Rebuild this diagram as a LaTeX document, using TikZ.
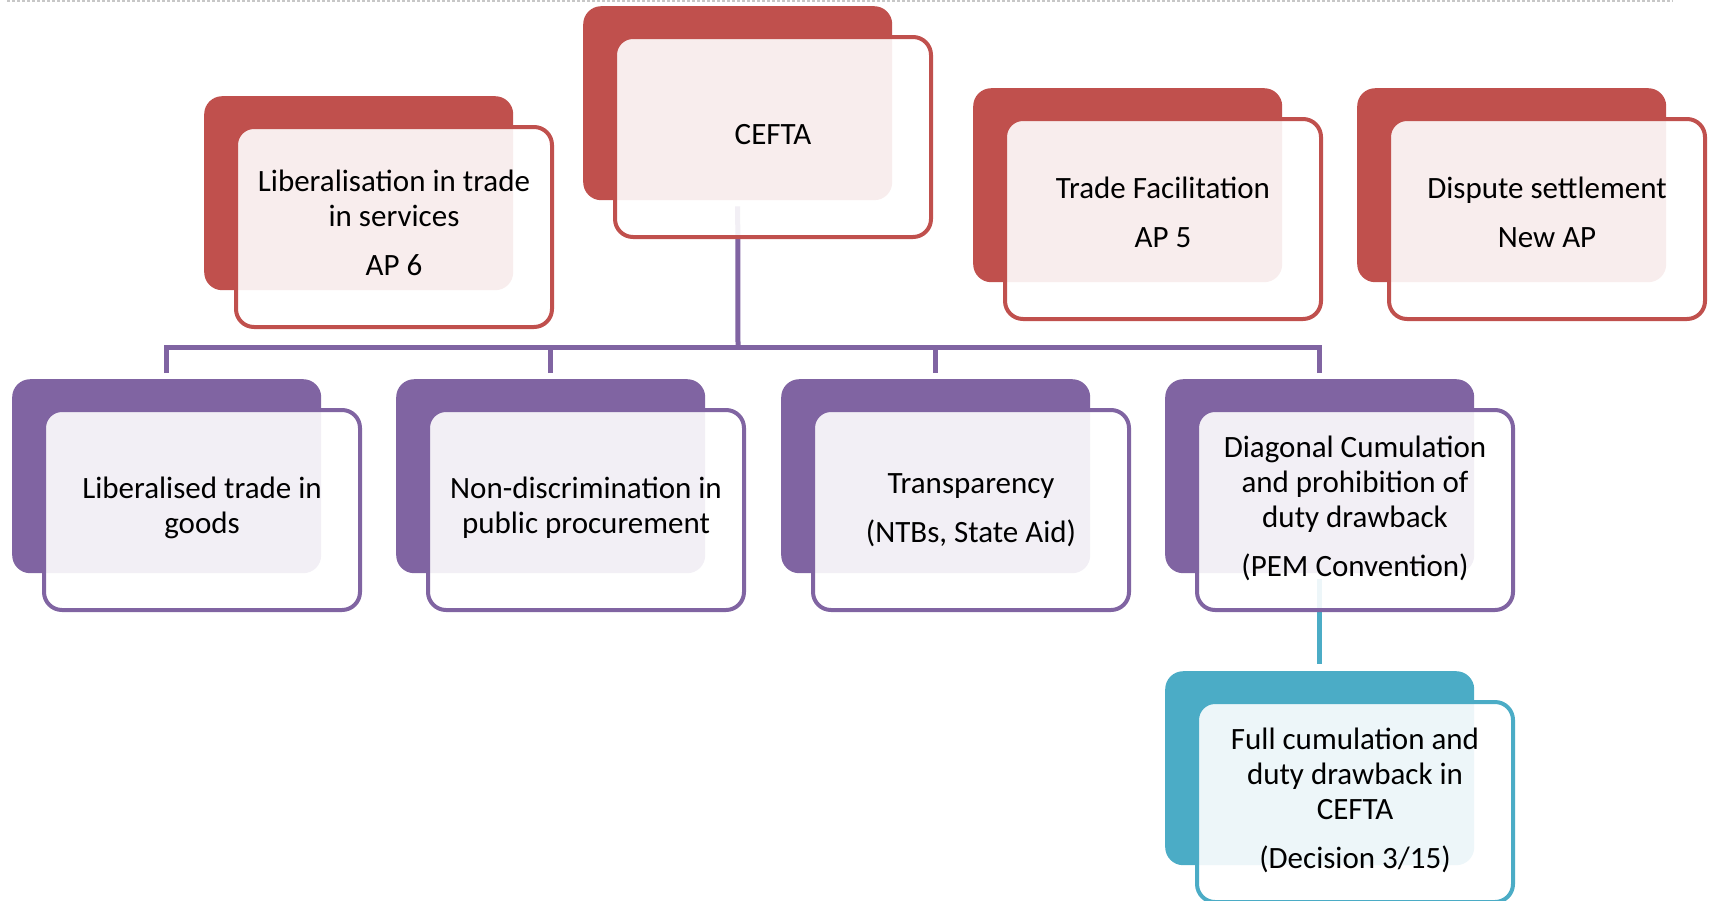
\documentclass[tikz,border=0pt]{standalone}
\usepackage{fontspec}
\setmainfont{Carlito}
\usetikzlibrary{calc}
\definecolor{cred}{HTML}{C0504D}
\definecolor{cpur}{HTML}{8064A2}
\definecolor{cteal}{HTML}{4BACC6}
\begin{document}
\begin{tikzpicture}[x=1pt,y=-1pt,
  backbox/.style={rounded corners=18pt, inner sep=0pt, minimum width=309pt, minimum height=194pt, anchor=north west, fill=#1, draw=none},
  frontbox/.style={rounded corners=18pt, draw=#1, line width=4pt, fill=white, fill opacity=0.9, draw opacity=1, text opacity=1, minimum width=316pt, minimum height=200pt, anchor=north west, inner sep=0pt},
  boxtext/.style={font=\fontsize{31}{35}\selectfont, align=center, text=black, yshift=#1},
  conn/.style={line width=5pt, draw=#1}]
\useasboundingbox (0,0) rectangle (1712,900);
% top dotted rule
\coordinate (dotL) at (7,1);
\coordinate (dotR) at (1673,1);
\draw[black!22, line width=1.5pt, dash pattern=on 3pt off 2pt] (dotL) -- (dotR);
% back boxes
\node[backbox=cred] (ceftaB) at (583,6) {};
\node[backbox=cred] (servB) at (204,96) {};
\node[backbox=cred] (tfB) at (973,88) {};
\node[backbox=cred] (dsB) at (1357,88) {};
\node[backbox=cpur] (g1B) at (12,379) {};
\node[backbox=cpur] (g2B) at (396,379) {};
\node[backbox=cpur] (g3B) at (781,379) {};
\node[backbox=cpur] (g4B) at (1165,379) {};
\node[backbox=cteal] (tB) at (1165,671) {};
% connectors
\coordinate (bus) at (738,347);
\draw[conn=cpur] ([yshift=-6pt]ceftaB.south) -- (bus);
\draw[conn=cpur] ([yshift=6pt]g1B.north) |- (bus);
\draw[conn=cpur] ([yshift=6pt]g4B.north) |- (bus);
\draw[conn=cpur] ([yshift=6pt]g2B.north) -- (g2B.north |- bus);
\draw[conn=cpur] ([yshift=6pt]g3B.north) -- (g3B.north |- bus);
\draw[conn=cteal] ([yshift=-6pt]g4B.south) -- ([yshift=7pt]tB.north);
% front boxes (frames; the text sits on each frame's centre)
\node[frontbox=cred, label={[boxtext=2pt]center:CEFTA}] (cefta) at ($(ceftaB.north west)+(30,29)$) {};
\node[frontbox=cred, label={[boxtext=4pt]center:Liberalisation in trade\\in services\\[14pt]AP 6}] (serv) at ($(servB.north west)+(30,29)$) {};
\node[frontbox=cred, label={[boxtext=7pt]center:Trade Facilitation\\[14pt]AP 5}] (tf) at ($(tfB.north west)+(30,29)$) {};
\node[frontbox=cred, label={[boxtext=7pt]center:Dispute settlement\\[14pt]New AP}] (ds) at ($(dsB.north west)+(30,29)$) {};
\node[frontbox=cpur, label={[boxtext=2pt]center:Liberalised trade in\\goods}] (g1) at ($(g1B.north west)+(30,29)$) {};
\node[frontbox=cpur, label={[boxtext=2pt]center:Non-discrimination in\\public procurement}] (g2) at ($(g2B.north west)+(30,29)$) {};
\node[frontbox=cpur, label={[boxtext=0pt]center:Transparency\\[14pt](NTBs, State Aid)}] (g3) at ($(g3B.north west)+(30,29)$) {};
\node[frontbox=cpur, label={[boxtext=2pt]center:Diagonal Cumulation\\and prohibition of\\duty drawback\\[14pt](PEM Convention)}] (g4) at ($(g4B.north west)+(30,29)$) {};
\node[frontbox=cteal, label={[boxtext=2pt]center:Full cumulation and\\duty drawback in\\CEFTA\\[14pt](Decision 3/15)}] (t) at ($(tB.north west)+(30,29)$) {};
\end{tikzpicture}
\end{document}
